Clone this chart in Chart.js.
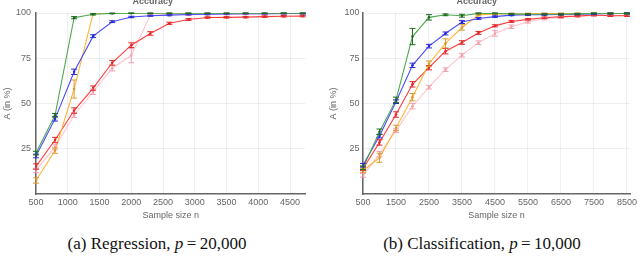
<!DOCTYPE html>
<html>
<head>
<meta charset="utf-8">
<script src="https://cdn.jsdelivr.net/npm/chart.js@4"></script>
<style>
  body { margin: 0; background: #fff; width: 640px; height: 257px; overflow: hidden; position: relative; }
  canvas { position: absolute; top: -4px; }
  #regChart { left: 0; }
  #clsChart { left: 320px; }
  .caption { position: absolute; top: 234px; font-family: "Liberation Serif", serif; font-size: 17px; color: #111;
             white-space: nowrap; transform: translateX(-50%); }
</style>
</head>
<body>
<canvas id="regChart" width="320" height="230"></canvas>
<canvas id="clsChart" width="320" height="230"></canvas>
<div class="caption" style="left:157px">(a) Regression, <i>p</i>&thinsp;=&thinsp;20,000</div>
<div class="caption" style="left:482px">(b) Classification, <i>p</i>&thinsp;=&thinsp;10,000</div>
<script>
// --- data: regression, p = 20,000 ---------------------------------------
var regSizes = [500, 800, 1100, 1400, 1700, 2000, 2300, 2600, 2900, 3200, 3500, 3800, 4100, 4400, 4700];
var regTicks = [500, 1000, 1500, 2000, 2500, 3000, 3500, 4000, 4500];
var regGreen = [22.6, 43.5, 97.4, 99.3, 99.8, 99.9, 99.9, 99.9, 99.9, 99.9, 99.9, 99.9, 99.9, 99.9, 99.9];
var regGreenErr = [1, 1, 0.6, 0.4, 0.2, 0.2, 0.2, 0.2, 0.2, 0.2, 0.2, 0.2, 0.2, 0.2, 0.2];
var regBlue = [21, 41.5, 67.5, 87.2, 95.2, 97.8, 98.5, 98.8, 99.2, 99.4, 99.5, 99.6, 99.6, 99.7, 99.7];
var regBlueErr = [1, 1.2, 1.5, 0.8, 0.5, 0.4, 0.3, 0.3, 0.3, 0.3, 0.2, 0.2, 0.2, 0.2, 0.2];
var regOrange = [7.5, 24, 58, 99.8, 100, 100, 100, 100, 100, 100, 100, 100, 100, 100, 100];
var regOrangeErr = [1.5, 1.5, 5, 0, 0, 0, 0, 0, 0, 0, 0, 0, 0, 0, 0];
var regRed = [15.2, 29.8, 46.1, 58.5, 72.5, 82.2, 88.7, 94.3, 96.4, 97.5, 97.6, 97.7, 98, 98.2, 98.3];
var regRedErr = [1.5, 1.5, 1.5, 1.2, 1.3, 1.3, 1, 0.6, 0.5, 0.4, 0.4, 0.4, 0.4, 0.4, 0.4];
var regPink = [13, 26, 43.5, 56.5, 69.5, 76.5, 98.8, 99, 99.1, 99.2, 99.3, 99.4, 99.5, 99.6, 99.6];
var regPinkErr = [1.2, 1.2, 1.2, 1.5, 1.5, 4, 0.5, 0.4, 0.4, 0.3, 0.3, 0.3, 0.3, 0.3, 0.3];

// --- data: classification, p = 10,000 -----------------------------------
var clsSizes = [500, 1000, 1500, 2000, 2500, 3000, 3500, 4000, 4500, 5000, 5500, 6000, 6500, 7000, 7500, 8000, 8500];
var clsTicks = [500, 1500, 2500, 3500, 4500, 5500, 6500, 7500, 8500];
var clsGreen = [14.5, 34.4, 52, 87, 97.6, 99, 98.5, 99.8, 99.8, 99.5, 99.3, 99.3, 99.3, 99.5, 99.8, 99.8, 99.8];
var clsGreenErr = [1, 1.5, 1.5, 4.5, 1.5, 0.5, 0.8, 0.3, 0.3, 0.3, 0.3, 0.3, 0.3, 0.3, 0.3, 0.3, 0.3];
var clsBlue = [15.9, 32, 51, 71.1, 81.7, 88.7, 95, 97, 98, 98.8, 99, 99.1, 99.2, 99.3, 99.5, 99.7, 99.8];
var clsBlueErr = [1, 1, 1, 1.2, 1, 0.8, 0.8, 0.5, 0.4, 0.3, 0.3, 0.3, 0.3, 0.3, 0.3, 0.3, 0.3];
var clsOrange = [13, 20, 36.5, 53.5, 72, 83.2, 92, 98.9, 99.5, 99.6, 99.6, 99.7, 99.7, 99.7, 99.7, 99.7, 99.8];
var clsOrangeErr = [1, 2.5, 1.5, 2, 1.5, 2.5, 1.5, 0.5, 0.3, 0.3, 0.3, 0.3, 0.3, 0.3, 0.3, 0.3, 0.3];
var clsRed = [14, 28.5, 43.9, 60.6, 69.8, 78.9, 83.7, 89, 92.9, 95.3, 96.5, 97.4, 98, 98.3, 98.9, 98.5, 98.5];
var clsRedErr = [1, 1.5, 1.5, 1.5, 1.2, 1.5, 1, 0.8, 0.6, 0.5, 0.4, 0.4, 0.4, 0.4, 0.4, 0.4, 0.4];
var clsPink = [10.3, 22, 35, 48.5, 59, 68.7, 76.7, 83.6, 88.7, 92.4, 95.2, 96.8, 97.5, 98.3, 98.6, 98.7, 98.7];
var clsPinkErr = [1, 1.5, 1, 1.5, 1, 1, 1, 1, 1.5, 1, 0.8, 0.6, 0.5, 0.4, 0.4, 0.4, 0.4];

var yTicks = [25, 50, 75, 100];

// --- error bars, drawn through the chart's own scales ---------------------
var errorBarsPlugin = {
    id: 'errorBars',
    afterDatasetsDraw: function (chart) {
        var ctx = chart.ctx;
        var xs = chart.scales.x, ys = chart.scales.y;
        for (var i = chart.data.datasets.length - 1; i >= 0; i--) {
            var ds = chart.data.datasets[i];
            if (!ds.errors) continue;
            ctx.save();
            ctx.strokeStyle = ds.errorColor;
            ctx.lineWidth = 1;
            ds.data.forEach(function (p, j) {
                var e = ds.errors[j];
                if (!e) return;
                var x = xs.getPixelForValue(p.x);
                var y1 = ys.getPixelForValue(p.y - e);
                var y2 = ys.getPixelForValue(p.y + e);
                ctx.beginPath();
                ctx.moveTo(x, y1); ctx.lineTo(x, y2);
                ctx.moveTo(x - 3, y1); ctx.lineTo(x + 3, y1);
                ctx.moveTo(x - 3, y2); ctx.lineTo(x + 3, y2);
                ctx.stroke();
            });
            ctx.restore();
        }
    }
};

function series(xs, ys, errs, color, errColor) {
    return {
        data: xs.map(function (x, i) { return {x: x, y: ys[i]}; }),
        errors: errs,
        errorColor: errColor,
        borderColor: color,
        backgroundColor: errColor,
        borderWidth: 1.1,
        pointRadius: 1.3,
        pointBorderWidth: 0,
        pointBackgroundColor: errColor,
        tension: 0
    };
}

function makeChart(id, sizes, ticks, xMax, axisWidth, yTitlePad, yTickPad, rightPad, sets) {
    var ctx = document.getElementById(id).getContext('2d');
    var font = {family: '"Liberation Sans", Arial, sans-serif', size: 9};
    return new Chart(ctx, {
        type: 'line',
        data: {datasets: sets},
        plugins: [errorBarsPlugin],
        options: {
            responsive: false,
            animation: false,
            layout: {padding: {left: 0, right: rightPad, top: 0, bottom: 0}},
            plugins: {
                legend: {display: false},
                tooltip: {enabled: false},
                title: {display: true, text: 'Accuracy', color: '#666', font: font, padding: {top: 0, bottom: 6.2}}
            },
            scales: {
                x: {
                    type: 'linear', min: 500, max: xMax,
                    afterBuildTicks: function (s) { s.ticks = ticks.map(function (v) { return {value: v}; }); },
                    afterFit: function (s) { s.height = 32; },
                    ticks: {color: '#666', font: font, padding: 3, maxRotation: 0,
                            callback: function (v) { return String(v); }},
                    grid: {color: 'rgba(40,40,110,0.08)', drawTicks: false},
                    border: {color: '#666', width: 1.5},
                    title: {display: true, text: 'Sample size n', color: '#666', font: font, padding: {top: 0, bottom: 4.6}}
                },
                y: {
                    min: 0, max: 100,
                    afterBuildTicks: function (s) { s.ticks = yTicks.map(function (v) { return {value: v}; }); },
                    afterFit: function (s) { s.width = axisWidth; },
                    ticks: {color: '#666', font: font, padding: yTickPad,
                            callback: function (v) { return String(v); }},
                    grid: {color: 'rgba(40,40,110,0.08)', drawTicks: false},
                    border: {color: '#666', width: 1.5},
                    title: {display: true, text: 'A (in %)', color: '#666', font: font, padding: {top: yTitlePad, bottom: 0}}
                }
            }
        }
    });
}

// first dataset is drawn on top
makeChart('regChart', regSizes, regTicks, 4740, 36, 2.6, 5, 14.7, [
    series(regSizes, regGreen, regGreenErr, '#4fa84f', '#1f6a1f'),
    series(regSizes, regBlue, regBlueErr, '#4a4aff', '#2a2ad8'),
    series(regSizes, regOrange, regOrangeErr, '#ffb536', '#d99a30'),
    series(regSizes, regRed, regRedErr, '#ff3c3c', '#e02a2a'),
    series(regSizes, regPink, regPinkErr, '#ffc4cc', '#f0a0b0')
]);

makeChart('clsChart', clsSizes, clsTicks, 8600, 43, 8.6, 3.5, 6.7, [
    series(clsSizes, clsGreen, clsGreenErr, '#4fa84f', '#1f6a1f'),
    series(clsSizes, clsBlue, clsBlueErr, '#4a4aff', '#2a2ad8'),
    series(clsSizes, clsOrange, clsOrangeErr, '#ffb536', '#d99a30'),
    series(clsSizes, clsRed, clsRedErr, '#ff3c3c', '#e02a2a'),
    series(clsSizes, clsPink, clsPinkErr, '#ffc4cc', '#f0a0b0')
]);
</script>
</body>
</html>
